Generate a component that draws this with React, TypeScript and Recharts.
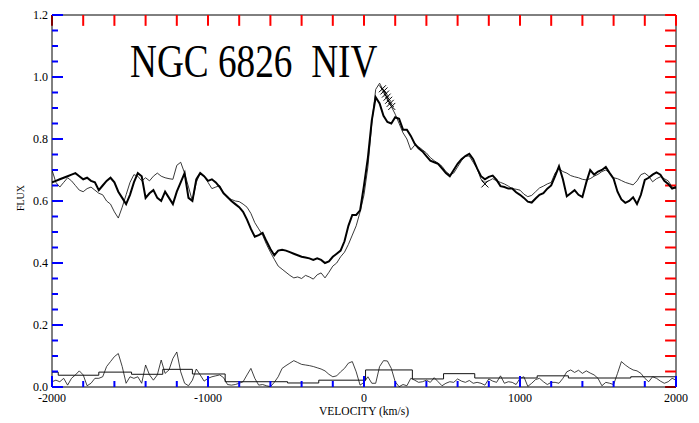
import React from "react";
import { ComposedChart, Line, XAxis, YAxis, ReferenceLine } from "recharts";

// velocity grid, km/s (25 km/s steps)
const velocity: number[] = Array.from({ length: 161 }, (_, i) => -2000 + i * 25);

// heavy spectrum
const fluxThick = [
  0.66, 0.665, 0.67, 0.675, 0.68, 0.685, 0.69, 0.68, 0.67, 0.675, 0.665, 0.66, 0.635, 0.65, 0.665, 0.675,
  0.66, 0.63, 0.61, 0.59, 0.62, 0.66, 0.69, 0.68, 0.61, 0.625, 0.635, 0.61, 0.6, 0.63, 0.61, 0.59,
  0.63, 0.66, 0.69, 0.61, 0.6, 0.67, 0.69, 0.68, 0.665, 0.67, 0.66, 0.645, 0.625, 0.613, 0.6, 0.59,
  0.58, 0.565, 0.54, 0.51, 0.485, 0.49, 0.497, 0.47, 0.445, 0.425, 0.44, 0.443, 0.44, 0.435, 0.43, 0.425,
  0.42, 0.418, 0.415, 0.41, 0.415, 0.41, 0.4, 0.405, 0.42, 0.43, 0.44, 0.47, 0.52, 0.555, 0.555, 0.57,
  0.65, 0.74, 0.86, 0.935, 0.915, 0.875, 0.855, 0.85, 0.87, 0.865, 0.83, 0.83, 0.81, 0.785, 0.77, 0.76,
  0.745, 0.73, 0.725, 0.72, 0.705, 0.69, 0.68, 0.7, 0.72, 0.735, 0.745, 0.752, 0.735, 0.705, 0.68, 0.67,
  0.678, 0.682, 0.668, 0.648, 0.645, 0.64, 0.64, 0.628, 0.62, 0.61, 0.598, 0.595, 0.608, 0.62, 0.625, 0.64,
  0.65, 0.68, 0.712, 0.67, 0.615, 0.625, 0.635, 0.62, 0.613, 0.66, 0.7, 0.685, 0.695, 0.7, 0.71, 0.69,
  0.672, 0.63, 0.605, 0.594, 0.6, 0.612, 0.59, 0.62, 0.668, 0.675, 0.685, 0.692, 0.685, 0.665, 0.655, 0.64,
  0.645,
];

// light spectrum
const fluxThin = [
  0.7, 0.66, 0.645, 0.66, 0.675, 0.665, 0.65, 0.635, 0.63, 0.64, 0.645, 0.635, 0.625, 0.62, 0.6, 0.59,
  0.565, 0.545, 0.58, 0.62, 0.66, 0.685, 0.68, 0.665, 0.675, 0.665, 0.68, 0.69, 0.68, 0.675, 0.672, 0.67,
  0.715, 0.725, 0.69, 0.645, 0.6, 0.66, 0.69, 0.68, 0.66, 0.64, 0.645, 0.65, 0.625, 0.61, 0.605, 0.6,
  0.598, 0.59, 0.58, 0.56, 0.53, 0.51, 0.49, 0.46, 0.435, 0.412, 0.39, 0.38, 0.37, 0.36, 0.352, 0.355,
  0.35, 0.36, 0.355, 0.348, 0.362, 0.368, 0.352, 0.37, 0.39, 0.4, 0.42, 0.435, 0.46, 0.49, 0.52, 0.565,
  0.62, 0.71, 0.85, 0.96, 0.98, 0.955, 0.93, 0.905, 0.88, 0.85, 0.82, 0.8, 0.765, 0.78, 0.775, 0.765,
  0.755, 0.74, 0.73, 0.722, 0.712, 0.695, 0.685, 0.69, 0.71, 0.73, 0.745, 0.745, 0.725, 0.705, 0.67, 0.66,
  0.665, 0.672, 0.665, 0.66, 0.655, 0.648, 0.64, 0.638, 0.635, 0.622, 0.614, 0.618, 0.63, 0.642, 0.648, 0.655,
  0.66, 0.69, 0.705, 0.695, 0.69, 0.682, 0.678, 0.675, 0.67, 0.668, 0.672, 0.68, 0.686, 0.695, 0.7, 0.69,
  0.675, 0.672, 0.666, 0.66, 0.656, 0.652, 0.665, 0.685, 0.69, 0.68, 0.662, 0.672, 0.678, 0.672, 0.665, 0.645,
  0.64,
];

// residual (bottom trace)
const residual = [
  0.017, 0.022, 0.017, 0.028, 0.006, 0.028, 0.039, 0.052, 0.039, 0.004, 0.012, 0.028, 0.028, 0.033, 0.066, 0.082,
  0.098, 0.108, 0.066, 0.012, 0.033, 0.028, 0.033, 0.012, 0.071, 0.039, 0.022, 0.039, 0.087, 0.044, 0.055, 0.092,
  0.113, 0.049, 0.012, 0.004, 0.022, 0.058, 0.039, 0.019, 0.028, 0.033, 0.036, 0.039, 0.03, 0.008, 0.006, 0.008,
  0.012, 0.017, 0.039, 0.06, 0.028, 0.006, 0.008, 0.004, 0.001, 0.015, 0.033, 0.06, 0.069, 0.077, 0.085, 0.079,
  0.073, 0.071, 0.069, 0.066, 0.062, 0.058, 0.052, 0.041, 0.033, 0.036, 0.049, 0.06, 0.077, 0.082, 0.049, 0.006,
  0.015, 0.033, 0.012, 0.012, 0.066, 0.085, 0.084, 0.06, 0.017, 0.001, 0.008, 0.004, 0.028, 0.022, 0.015, 0.017,
  0.022, 0.015, 0.03, 0.017, 0.004, 0.012, 0.017, 0.015, 0.026, 0.019, 0.015, 0.021, 0.012, 0.015, 0.012, 0.006,
  0.026, 0.019, 0.015, 0.036, 0.012, 0.017, 0.015, 0.008, 0.028, 0.033, 0.002, 0.012, 0.024, 0.028, 0.017, 0.008,
  0.015, 0.015, 0.012, 0.028, 0.049, 0.055, 0.047, 0.054, 0.044, 0.052, 0.045, 0.039, 0.028, 0.004, 0.015, 0.012,
  0.008, 0.044, 0.082, 0.071, 0.062, 0.055, 0.052, 0.044, 0.028, 0.017, 0.033, 0.028, 0.019, 0.012, 0.017, 0.028,
  0.022,
];

// binned level (step trace)
const binEdges = [-2000, -1960, -1700, -1490, -1290, -1100, -890, -490, -290, 10, 310, 510, 710, 1110, 1310, 1710, 2000];
const binLevels = [0.048, 0.038, 0.048, 0.041, 0.057, 0.042, 0.017, 0.013, 0.022, 0.055, 0.026, 0.043, 0.029, 0.036, 0.029, 0.033];

// marked points
const markV = [118, 128, 138, 148, 158, 168, 178, 775];
const markF = [0.962, 0.955, 0.945, 0.935, 0.925, 0.915, 0.905, 0.655];

const rows = velocity.map((v, i) => ({ v, thick: fluxThick[i], thin: fluxThin[i], resid: residual[i] }));
const stepRows = binEdges.map((v, i) => ({ v, step: binLevels[Math.min(i, binLevels.length - 1)] }));
const markRows = markV.map((v, i) => ({ v, f: markF[i] }));

const X_MIN = -2000;
const X_MAX = 2000;
const Y_MIN = 0;
const Y_MAX = 1.2;
const yTicks = Array.from({ length: 25 }, (_, i) => Math.round(i * 5) / 100);
const xTicks = Array.from({ length: 21 }, (_, i) => -2000 + i * 200);

const W = 699;
const H = 423;
const LEFT = 52;
const RIGHT = 676;
const TOP = 15;
const BOTTOM = 387;
const serif = "'Liberation Serif', 'DejaVu Serif', serif";

const isMajorY = (v: number) => Math.abs(v * 5 - Math.round(v * 5)) < 1e-6;
const isMajorX = (v: number) => v % 1000 === 0;

const LeftLabel = (props: any) => {
  const { y, payload } = props;
  const major = isMajorY(payload.value);
  return (
    <g>
      <rect x={LEFT} y={y - 1} width={major ? 11 : 6} height={2} fill="blue" />
      {major && (
        <text x={LEFT - 4} y={y + 4} textAnchor="end" fontSize={12} fontFamily={serif} fill="#000">
          {payload.value.toFixed(1)}
        </text>
      )}
    </g>
  );
};

const BottomLabel = (props: any) => {
  const { x, payload } = props;
  const major = isMajorX(payload.value);
  return (
    <g>
      <rect x={x - 1} y={BOTTOM - (major ? 11 : 6)} width={2} height={major ? 11 : 6} fill="blue" />
      {major && (
        <text x={x} y={BOTTOM + 15} textAnchor="middle" fontSize={12} fontFamily={serif} fill="#000">
          {payload.value}
        </text>
      )}
    </g>
  );
};

const Cross = (props: any) => {
  const { cx, cy } = props;
  if (cx == null || cy == null) return null;
  const s = 3.5;
  return (
    <g>
      <line x1={cx - s} y1={cy - s} x2={cx + s} y2={cy + s} stroke="#000" strokeWidth={1} />
      <line x1={cx - s} y1={cy + s} x2={cx + s} y2={cy - s} stroke="#000" strokeWidth={1} />
    </g>
  );
};

export default function App() {
  return (
    <div style={{ position: "absolute", left: 0, top: 0, width: W, height: H, background: "#fff" }}>
      <ComposedChart
        width={W}
        height={H}
        data={rows}
        margin={{ top: TOP, right: W - RIGHT, bottom: 0, left: 0 }}
      >
        <XAxis
          dataKey="v"
          type="number"
          domain={[X_MIN, X_MAX]}
          ticks={xTicks}
          tick={<BottomLabel />}
          tickLine={false}
          axisLine={{ stroke: "#000" }}
          height={H - BOTTOM}
          interval={0}
          allowDataOverflow
        />
        <YAxis
          type="number"
          domain={[Y_MIN, Y_MAX]}
          ticks={yTicks}
          tick={<LeftLabel />}
          tickLine={false}
          axisLine={{ stroke: "#000" }}
          width={LEFT}
          interval={0}
          allowDataOverflow
        />
        <ReferenceLine y={Y_MAX} stroke="#000" />
        <ReferenceLine x={X_MAX} stroke="#000" />
        {yTicks.map((t) => (
          <ReferenceLine key={`yr${t}`} segment={[{ x: 1930, y: t }, { x: 2000, y: t }]} stroke="red" strokeWidth={2} ifOverflow="visible" />
        ))}
        {xTicks.map((t) => (
          <ReferenceLine key={`xt${t}`} segment={[{ x: t, y: 1.165 }, { x: t, y: 1.2 }]} stroke="red" strokeWidth={2} ifOverflow="visible" />
        ))}
        <Line dataKey="resid" type="linear" stroke="#111" strokeWidth={0.8} dot={false} isAnimationActive={false} />
        <Line data={stepRows} dataKey="step" type="stepAfter" stroke="#111" strokeWidth={1} dot={false} isAnimationActive={false} />
        <Line dataKey="thin" type="linear" stroke="#222" strokeWidth={0.9} dot={false} isAnimationActive={false} />
        <Line dataKey="thick" type="linear" stroke="#000" strokeWidth={2} dot={false} isAnimationActive={false} />
        <Line data={markRows} dataKey="f" stroke="none" dot={<Cross />} isAnimationActive={false} />
      </ComposedChart>
      <div
        style={{
          position: "absolute",
          left: 130,
          top: 39,
          fontFamily: serif,
          fontSize: 46,
          color: "#000",
          whiteSpace: "pre",
          lineHeight: 1,
          transform: "scaleX(0.81)",
          transformOrigin: "left top",
        }}
      >
        {"NGC 6826  NIV"}
      </div>
      <div
        style={{
          position: "absolute",
          left: 20,
          top: 198,
          transform: "translate(-50%, -50%) rotate(-90deg)",
          fontFamily: serif,
          fontSize: 10,
          color: "#000",
          whiteSpace: "nowrap",
        }}
      >
        FLUX
      </div>
      <div
        style={{
          position: "absolute",
          left: 364,
          top: 411,
          transform: "translate(-50%, -50%)",
          fontFamily: serif,
          fontSize: 11.5,
          color: "#000",
          whiteSpace: "nowrap",
        }}
      >
        VELOCITY (km/s)
      </div>
    </div>
  );
}
